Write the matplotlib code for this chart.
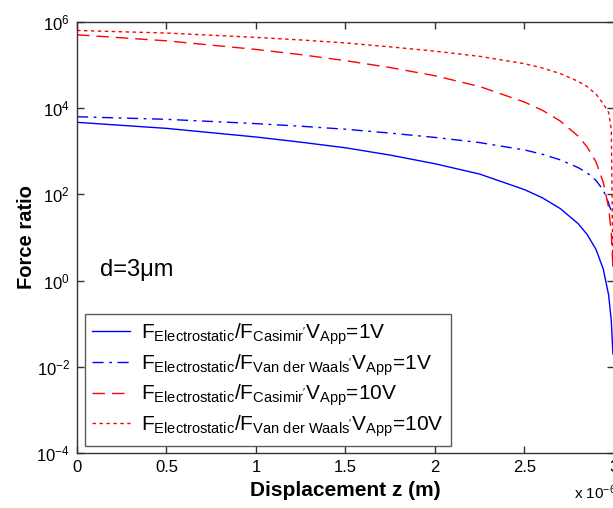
import matplotlib
matplotlib.use("Agg")
import matplotlib.pyplot as plt
import numpy as np

plt.rcParams['font.family'] = ['Liberation Sans', 'DejaVu Sans']
plt.rcParams['mathtext.fontset'] = 'custom'
plt.rcParams['mathtext.rm'] = 'Liberation Sans'
plt.rcParams['mathtext.it'] = 'Liberation Sans:italic'

# displacement z in micrometres (axis shows x 10^-6 m)
z_um = [0, 0.25, 0.5, 0.75, 1.0, 1.25, 1.5, 1.75, 2.0, 2.25, 2.5, 2.6, 2.7,
        2.8, 2.85, 2.9, 2.94, 2.97, 2.985, 2.994]

# log10 of the force ratios
cas_1v = [3.67, 3.60, 3.53, 3.43, 3.33, 3.21, 3.08, 2.91, 2.71, 2.47, 2.11, 1.92,
          1.67, 1.32, 1.07, 0.72, 0.27, -0.33, -0.93, -1.70]
vdw_1v = [3.80, 3.77, 3.74, 3.69, 3.64, 3.58, 3.51, 3.42, 3.32, 3.20, 3.03, 2.93,
          2.80, 2.62, 2.50, 2.32, 2.10, 1.80, 1.60, 1.45]
cas_10v = [5.70, 5.63, 5.56, 5.46, 5.36, 5.24, 5.10, 4.94, 4.75, 4.50, 4.14, 3.95,
           3.70, 3.35, 3.10, 2.75, 2.28, 1.70, 1.10, 0.30]
vdw_10v = [5.80, 5.77, 5.74, 5.69, 5.64, 5.58, 5.51, 5.42, 5.32, 5.20, 5.03, 4.93,
           4.80, 4.62, 4.50, 4.32, 4.10, 3.90, 3.50, 0.30]

labels = [r"F$_{\mathregular{Electrostatic}}$/F$_{\mathregular{Casimir'}}$V$_{\mathregular{App}}$=1V",
          r"F$_{\mathregular{Electrostatic}}$/F$_{\mathregular{Van\ der\ Waals'}}$V$_{\mathregular{App}}$=1V",
          r"F$_{\mathregular{Electrostatic}}$/F$_{\mathregular{Casimir'}}$V$_{\mathregular{App}}$=10V",
          r"F$_{\mathregular{Electrostatic}}$/F$_{\mathregular{Van\ der\ Waals'}}$V$_{\mathregular{App}}$=10V"]

fig = plt.figure(figsize=(6.13, 5.08), dpi=100)
ax = fig.add_axes([0.1256, 0.108, 0.876, 0.849])

ax.plot(z_um, 10 ** np.array(cas_1v), color='#0000ff', lw=1.0, ls='-', label=labels[0])
ax.plot(z_um, 10 ** np.array(vdw_1v), color='#0000ff', lw=1.0, dashes=(8, 4, 2, 4), label=labels[1])
ax.plot(z_um, 10 ** np.array(cas_10v), color='#ff0000', lw=1.0, dashes=(9, 5), label=labels[2])
ax.plot(z_um, 10 ** np.array(vdw_10v), color='#ff0000', lw=1.0, dashes=(2.5, 2.5), label=labels[3])

ax.set_yscale('log')
ax.set_xlim(0, 3)
ax.set_ylim(1e-4, 1e6)
ax.set_xticks([0, 0.5, 1, 1.5, 2, 2.5, 3])
ax.set_xticklabels(['0', '0.5', '1', '1.5', '2', '2.5', '3'])
ax.set_yticks([1e-4, 1e-2, 1e0, 1e2, 1e4, 1e6])
ax.set_yticklabels([r'10$^{\mathregular{-4}}$', r'10$^{\mathregular{-2}}$', r'10$^{\mathregular{0}}$',
                    r'10$^{\mathregular{2}}$', r'10$^{\mathregular{4}}$', r'10$^{\mathregular{6}}$'])
ax.minorticks_off()
ax.tick_params(direction='in', length=5, width=1, top=True, right=True,
               labelsize=12, colors='#333333', labelcolor='black', pad=5)
for s in ax.spines.values():
    s.set_color('#333333')
    s.set_linewidth(1.0)

ax.set_xlabel('Displacement z (m)', fontsize=15, fontweight='bold', labelpad=4)
ax.set_ylabel('Force ratio', fontsize=14.5, fontweight='bold', labelpad=0)

ax.text(0.043, 0.41, 'd=3μm', transform=ax.transAxes, fontsize=17)
fig.text(0.936, 0.018, r'x 10$^{\mathregular{-6}}$', fontsize=11)

leg = ax.legend(loc='lower left', bbox_to_anchor=(0.015, 0.016), fontsize=15,
                frameon=True, fancybox=False, edgecolor='#333333', handlelength=1.8,
                labelspacing=0.25, borderpad=0.35, handletextpad=0.55, borderaxespad=0)
leg.get_frame().set_linewidth(1.0)

fig.savefig('out.png', dpi=100)
